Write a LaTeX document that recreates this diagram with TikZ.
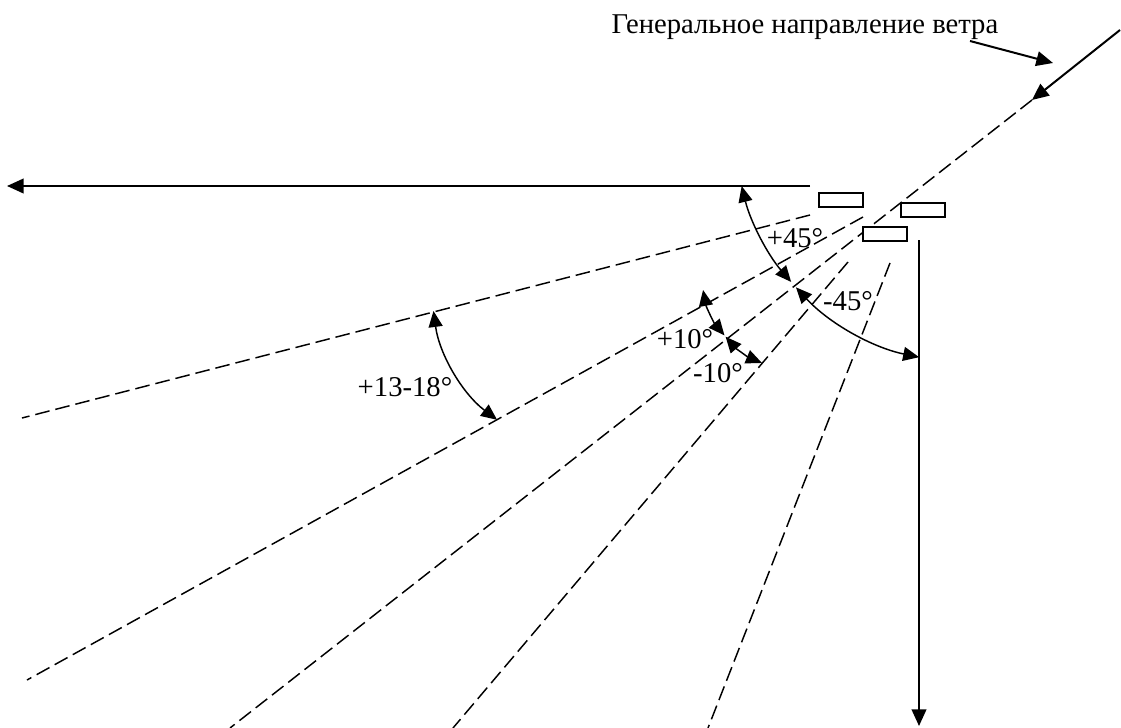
\documentclass[tikz,border=0pt]{standalone}
\usepackage{fontspec}
\setmainfont{Liberation Serif}
\usetikzlibrary{arrows.meta}

\begin{document}
\begin{tikzpicture}[x=0.75pt,y=-0.75pt,>={Triangle[length=12pt,width=10.5pt]},
  font=\fontsize{21.5}{26}\selectfont,
  axis/.style={line width=1.5pt,-{Triangle[length=12.5pt,width=11pt]}},
  ray/.style={line width=1.1pt,dash pattern=on 11pt off 4.5pt},
  ang/.style={line width=1.1pt,<->},
  post/.style={draw,fill=white,line width=1.1pt,minimum width=33pt,minimum height=10.5pt,inner sep=0pt},
  lbl/.style={anchor=base,inner sep=0pt}]
\useasboundingbox (0,0) rectangle (1121,728);
% end points
\coordinate (w0) at (1120,30);
\coordinate (w1) at (1032,100);
\coordinate (w2) at (230,728);
\coordinate (h0) at (810,186);
\coordinate (h1) at (7,186);
\coordinate (v0) at (919,240);
\coordinate (v1) at (919,726);
\coordinate (a0) at (810,215);
\coordinate (a1) at (22,418);
\coordinate (b0) at (863,217);
\coordinate (b1) at (27,680);
\coordinate (c0) at (848,262);
\coordinate (c1) at (453,728);
\coordinate (d0) at (890,263);
\coordinate (d1) at (708,728);
\coordinate (t0) at (970,41);
\coordinate (t1) at (1053,63);
% dashed rays
\draw[ray] (w1) -- (w2);
\draw[ray] (a0) -- (a1);
\draw[ray] (b0) -- (b1);
\draw[ray] (c0) -- (c1);
\draw[ray] (d0) -- (d1);
% posts
\node[post] (post1) at (841,200) {};
\node[post] (post2) at (923,210) {};
\node[post] (post3) at (885,234) {};
% solid lines
\draw[axis] (h0) -- (h1);
\draw[axis] (v0) -- (v1);
\draw[axis] (w0) -- (w1);
\draw[axis] (t0) -- (t1);
% angle arcs
\coordinate (o45) at (966,131);
\coordinate (o10) at (800,272);
\coordinate (o13) at (596,289);
\draw[ang] ([shift={(166.2:231)}]o45) arc[start angle=166.2,end angle=139.2,radius=231];
\draw[ang] ([shift={(137.4:231)}]o45) arc[start angle=137.4,end angle=101.7,radius=231];
\draw[ang] ([shift={(169.5:98.6)}]o10) arc[start angle=169.5,end angle=140,radius=98.6];
\draw[ang] ([shift={(139:98.6)}]o10) arc[start angle=139,end angle=112.7,radius=98.6];
\draw[ang] ([shift={(172.3:164)}]o13) arc[start angle=172.3,end angle=127.1,radius=164];
% labels
\node[lbl] (title) at (805,33) {Генеральное направление ветра};
\node[lbl] (p45) at (795,247) {+45°};
\node[lbl] (m45) at (848,310) {-45°};
\node[lbl] (p10) at (685,348) {+10°};
\node[lbl] (m10) at (718,382) {-10°};
\node[lbl] (p13) at (405,396) {+13-18°};
\end{tikzpicture}
\end{document}
